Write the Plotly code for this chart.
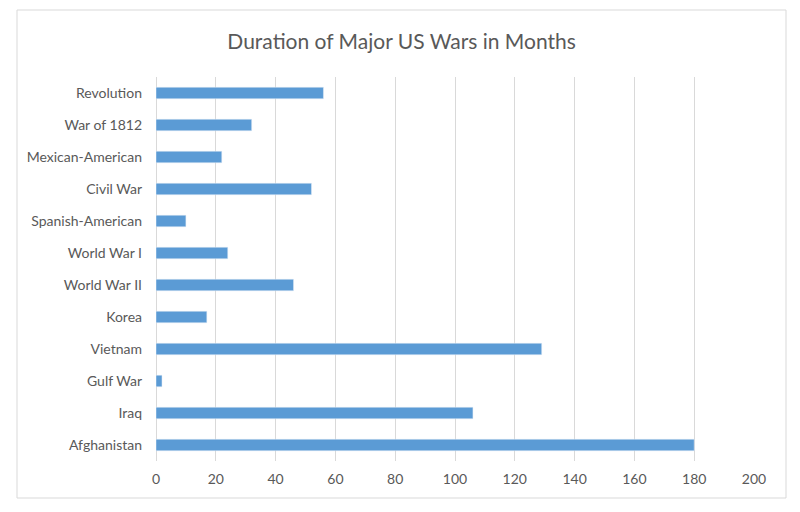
import plotly.graph_objects as go

# Data
wars = ["Revolution", "War of 1812", "Mexican-American", "Civil War",
        "Spanish-American", "World War I", "World War II", "Korea",
        "Vietnam", "Gulf War", "Iraq", "Afghanistan"]
months = [56, 32, 22, 52, 10, 24, 46, 17, 129, 2, 106, 180]
x_ticks = [0, 20, 40, 60, 80, 100, 120, 140, 160, 180, 200]

# page body has an 8px margin, so the figure is a bit smaller than the window
W, H = 792, 504
ml, mr, mt, mb = 148, 46, 69, 51
pw, ph = W - ml - mr, H - mt - mb

fig = go.Figure(go.Bar(
    x=months,
    y=wars,
    orientation="h",
    marker=dict(color="#5B9BD5"),
    width=0.36,
))

# light frame around the whole chart, like Excel's chart area border
fig.add_shape(
    type="rect", xref="paper", yref="paper",
    x0=(9 - ml) / pw, x1=(778 - ml) / pw,
    y0=(mt + ph - 490) / ph, y1=(mt + ph - 2) / ph,
    line=dict(color="#d9d9d9", width=1), fillcolor="rgba(0,0,0,0)",
    layer="below",
)

fig.update_layout(
    width=W, height=H,
    margin=dict(l=ml, r=mr, t=mt, b=mb),
    paper_bgcolor="white",
    plot_bgcolor="white",
    font=dict(family="Lato, Open Sans, sans-serif", color="#595959", size=14),
    title=dict(
        text="Duration of Major US Wars in Months",
        x=0.497, xanchor="center", xref="container",
        y=1 - 34 / H, yanchor="middle",
        font=dict(size=21, color="#595959"),
    ),
    showlegend=False,
)

fig.update_xaxes(
    range=[0, 200],
    tickvals=x_ticks,
    showgrid=True, gridcolor="#d9d9d9", gridwidth=1,
    zeroline=True, zerolinecolor="#d9d9d9", zerolinewidth=1,
    showline=False,
    ticks="",
    ticklabelstandoff=8,
    fixedrange=True,
)

fig.update_yaxes(
    categoryorder="array",
    categoryarray=wars[::-1],
    showgrid=False,
    showline=False,
    ticks="",
    ticklabelstandoff=13,
    fixedrange=True,
)

fig.write_html("out.html")
